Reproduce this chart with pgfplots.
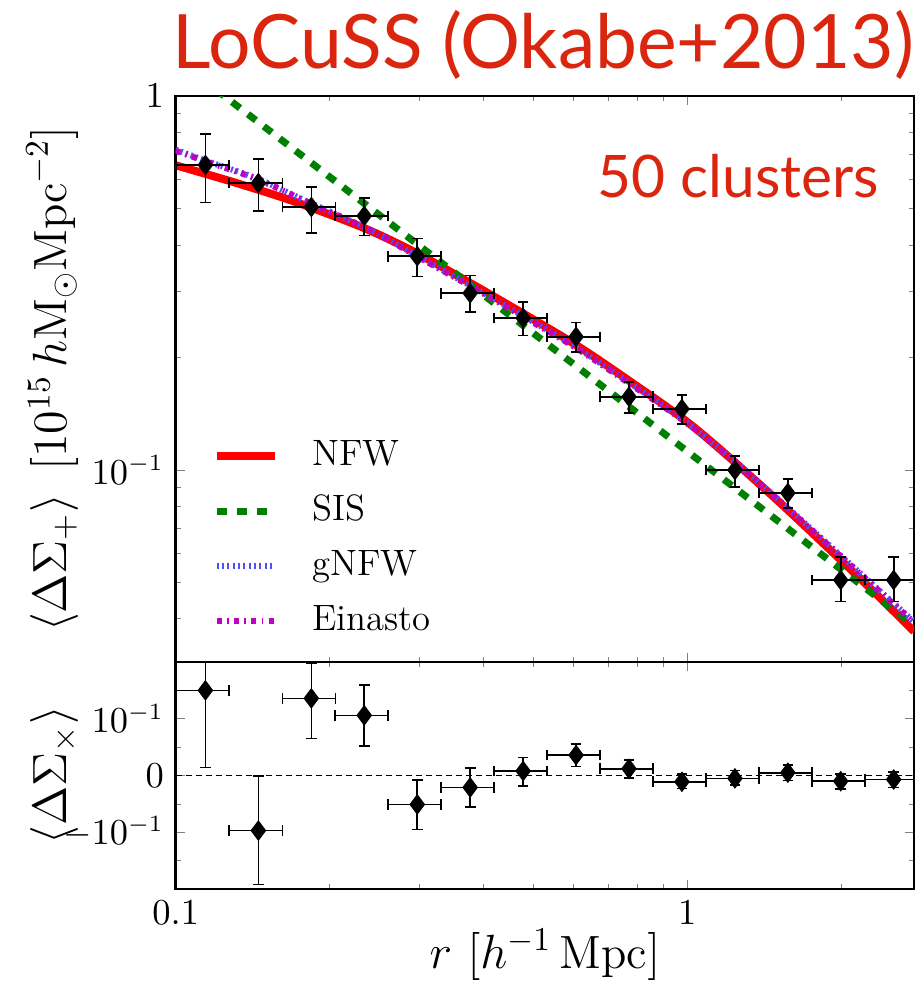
\documentclass[border=0pt]{standalone}
\usepackage{pgfplots}
\pgfplotsset{compat=1.18}
\usepackage{pgfplotstable}
\usepackage{fontspec}
\newfontfamily\lato{Lato}

\definecolor{locred}{RGB}{218,38,14}
\definecolor{gnfwblue}{RGB}{80,80,255}
\definecolor{einmag}{RGB}{191,0,191}
\definecolor{sisgreen}{RGB}{0,128,0}

% stacked tangential shear, 14 radial bins
\pgfplotstableread{
x      exm    exp    y      eym    eyp
0.1143 0.0140 0.0130 0.654  0.135  0.136
0.1451 0.0178 0.0166 0.585  0.092  0.095
0.1842 0.0225 0.0210 0.505  0.074  0.067
0.2337 0.0286 0.0267 0.478  0.054  0.055
0.2967 0.0363 0.0339 0.373  0.044  0.043
0.3765 0.0461 0.0430 0.297  0.032  0.034
0.4778 0.0585 0.0545 0.255  0.026  0.026
0.6064 0.0742 0.0692 0.227  0.020  0.021
0.7696 0.0942 0.0878 0.157  0.015  0.015
0.9766 0.1195 0.1114 0.1456 0.013  0.013
1.2395 0.1517 0.1414 0.100  0.010  0.009
1.573  0.1925 0.1795 0.0868 0.0078 0.0078
1.996  0.2443 0.2277 0.0508 0.0063 0.0078
2.533  0.3100 0.2890 0.0508 0.0063 0.0078
}\tangential

% cross shear, in symlog display units (1 = 10^-1)
\pgfplotstableread{
x      exm    exp    y     eym   eyp
0.1143 0.0140 0.0130 1.50  1.36  1.36
0.1451 0.0178 0.0166 -0.97 0.95  0.96
0.1842 0.0225 0.0210 1.36  0.71  0.62
0.2337 0.0286 0.0267 1.06  0.54  0.53
0.2967 0.0363 0.0339 -0.51 0.44  0.43
0.3765 0.0461 0.0430 -0.21 0.34  0.34
0.4778 0.0585 0.0545 0.08  0.26  0.24
0.6064 0.0742 0.0692 0.36  0.20  0.19
0.7696 0.0942 0.0878 0.12  0.16  0.15
0.9766 0.1195 0.1114 -0.11 0.12  0.135
1.2395 0.1517 0.1414 -0.05 0.12  0.14
1.573  0.1925 0.1795 0.05  0.14  0.13
1.996  0.2443 0.2277 -0.10 0.14  0.13
2.533  0.3100 0.2890 -0.07 0.14  0.13
}\cross

\pgfplotsset{
  legend image code/.code={\draw[#1] (0pt,0pt) -- (17.4pt,0pt);},
}

\begin{document}
\begin{tikzpicture}
\begin{axis}[
    at={(52.71pt,-28.8pt)}, anchor=north west,
    scale only axis, width=221.5pt, height=169.8pt,
    xmode=log, ymode=log,
    xmin=0.1, xmax=2.776, ymin=0.03066, ymax=1,
    tick align=inside, xtick pos=both, ytick pos=both,
    xticklabel pos=bottom, yticklabel pos=left,
    major tick length=2.7pt, minor tick length=1.5pt,
    axis line style={line width=0.8pt},
    xtick={0.1,1}, xticklabels={},
    minor xtick={0.2,0.3,0.4,0.5,0.6,0.7,0.8,0.9,2},
    ytick={0.1,1}, yticklabels={$10^{-1}$,$1$},
    minor ytick={0.04,0.05,0.06,0.07,0.08,0.09,0.2,0.3,0.4,0.5,0.6,0.7,0.8,0.9},
    tick label style={font=\fontsize{10.7}{12}\selectfont},
    legend cell align=left,
    legend style={draw=none, fill=none, at={(axis description cs:0.049,0.394)},
      anchor=north west, inner sep=0pt, row sep=6.7pt, column sep=10.2pt,
      font=\fontsize{11}{13}\selectfont,
      nodes={inner sep=0pt, text height=7.6pt, text depth=2.2pt}},
]
\addplot[red, line width=2.4pt, smooth] coordinates {
  (0.100,0.653) (0.130,0.588) (0.170,0.523) (0.234,0.443) (0.296,0.380)
  (0.377,0.316) (0.478,0.262) (0.606,0.216) (0.762,0.175) (1.028,0.1305)
  (1.474,0.0848) (2.177,0.0513) (2.776,0.0370)};
\addlegendentry{NFW}
\addplot[sisgreen, line width=2.1pt, dash pattern=on 3pt off 3pt] coordinates {
  (0.120,1.039) (2.776,0.0384)};
\addlegendentry{SIS}
\addplot[gnfwblue, line width=1.8pt, smooth, dash pattern=on 0.6pt off 1pt] coordinates {
  (0.100,0.719) (0.113,0.676) (0.144,0.602) (0.183,0.518) (0.240,0.439)
  (0.296,0.374) (0.377,0.311) (0.478,0.258) (0.606,0.213) (0.762,0.173)
  (1.028,0.130) (1.474,0.0856) (2.177,0.0530) (2.776,0.0393)};
\addlegendentry{gNFW}
\addplot[einmag, line width=1.8pt, smooth, dash pattern=on 1.5pt off 1.6pt on 0.5pt off 1.6pt] coordinates {
  (0.100,0.714) (0.113,0.673) (0.144,0.600) (0.183,0.517) (0.240,0.438)
  (0.296,0.373) (0.377,0.310) (0.478,0.257) (0.606,0.212) (0.762,0.172)
  (1.028,0.1295) (1.474,0.0853) (2.177,0.0528) (2.776,0.0391)};
\addlegendentry{Einasto}
\addplot[only marks, mark=diamond*, mark size=2.8pt, black, forget plot,
    error bars/.cd, x dir=both, x explicit, y dir=both, y explicit,
    error bar style={line width=0.5pt},
    error mark=-,
    error mark options={rotate=90, line width=0.5pt, mark size=1.6pt}]
  table[x=x, y=y, x error minus=exm, x error plus=exp,
  y error minus=eym, y error plus=eyp] {\tangential};
\end{axis}

\begin{axis}[
    at={(52.71pt,-198.6pt)}, anchor=north west,
    scale only axis, width=221.5pt, height=68.1pt,
    xmode=log, xmin=0.1, xmax=2.776, ymin=-2, ymax=2,
    tick align=inside, xtick pos=both, ytick pos=both,
    xticklabel pos=bottom, yticklabel pos=left,
    major tick length=2.7pt, minor tick length=1.5pt,
    axis line style={line width=0.8pt},
    xtick={0.1,1}, xticklabels={$0.1$,$1$},
    minor xtick={0.2,0.3,0.4,0.5,0.6,0.7,0.8,0.9,2},
    ytick={-1,0,1}, yticklabels={$-10^{-1}$,$0$,$10^{-1}$},
    minor ytick={-1.5,-0.5,0.5,1.5},
    tick label style={font=\fontsize{10.7}{12}\selectfont},
]
\addplot[black, line width=0.4pt, dash pattern=on 2pt off 1pt, forget plot]
  coordinates {(0.1,0) (2.776,0)};
\addplot[only marks, mark=diamond*, mark size=2.8pt, black, forget plot,
    error bars/.cd, x dir=both, x explicit, y dir=both, y explicit,
    error bar style={line width=0.5pt},
    error mark=-,
    error mark options={rotate=90, line width=0.5pt, mark size=1.6pt}]
  table[x=x, y=y, x error minus=exm, x error plus=exp,
  y error minus=eym, y error plus=eyp] {\cross};
\end{axis}

% titles and axis labels
\node[anchor=base west, inner sep=0pt, text=locred, font=\lato\fontsize{22.5}{26}\selectfont]
  at (51.6pt,-20.4pt) {LoCuSS (Okabe+2013)};
\node[anchor=base west, inner sep=0pt, text=locred, font=\lato\fontsize{17.6}{20}\selectfont]
  at (179.1pt,-59.1pt) {50 clusters};
\node[rotate=90, anchor=base, inner sep=0pt, font=\fontsize{14}{16}\selectfont]
  at (20.1pt,-113.7pt) {$\left\langle \Delta\Sigma_+ \right\rangle\ [10^{15}\,h\mathrm{M}_\odot\mathrm{Mpc}^{-2}]$};
\node[rotate=90, anchor=base, inner sep=0pt, font=\fontsize{14}{16}\selectfont]
  at (20.1pt,-232.6pt) {$\left\langle \Delta\Sigma_\times \right\rangle$};
\node[anchor=base, inner sep=0pt, font=\fontsize{14}{16}\selectfont]
  at (163.5pt,-290.4pt) {$r\ [h^{-1}\,\mathrm{Mpc}]$};

\pgfresetboundingbox
\path[use as bounding box] (0pt,0pt) rectangle (274.8pt,-295.2pt);
\end{tikzpicture}
\end{document}
